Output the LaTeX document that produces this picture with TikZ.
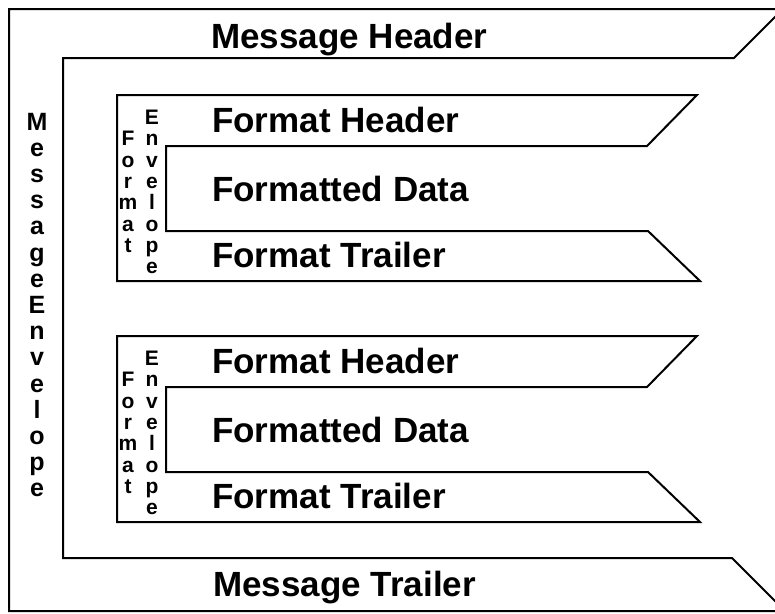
\documentclass[tikz,border=0pt]{standalone}
\usepackage{fontspec}
\setmainfont{Liberation Sans}
\usepackage{tikz}

\tikzset{
    envelope/.style={line width=2pt, line join=miter},
    bandtext/.style={anchor=base west, inner sep=0pt, font=\fontsize{35}{40}\selectfont\bfseries},
    bigstack/.style={align=center, inner sep=0pt, font=\fontsize{25}{26.2}\selectfont\bfseries},
    smallstack/.style={align=center, inner sep=0pt, font=\fontsize{21}{21.3}\selectfont\bfseries}
}

\begin{document}
\begin{tikzpicture}[x=1pt, y=-1pt]
    \useasboundingbox (0,0) rectangle (775,613);
    \clip (0,0) rectangle (775,613);
    % message envelope
    \draw[envelope] (9,611) -- (9,9) -- (783,9) -- (734,58) -- (63,58) -- (63,558)
        -- (732,558) -- (785,611) -- cycle;
    \node[bandtext] (msghead) at (211,48) {Message Header};
    \node[bandtext] (msgtrail) at (213,596) {Message Trailer};
    \node[bigstack] (msgenv) at (37,305) {M\\e\\s\\s\\a\\g\\e\\E\\n\\v\\e\\l\\o\\p\\e};
    % the two format envelopes
    \foreach \dy/\k in {0/1, 241/2} {
        \draw[envelope] (117,{95+\dy}) -- (697,{95+\dy}) -- (647,{146+\dy}) -- (166,{146+\dy})
            -- (166,{231+\dy}) -- (648,{231+\dy}) -- (700,{281+\dy}) -- (117,{281+\dy}) -- cycle;
        \node[bandtext] (fmthead\k) at (212,{132+\dy}) {Format Header};
        \node[bandtext] (fmtdata\k) at (212,{201+\dy}) {Formatted Data};
        \node[bandtext] (fmttrail\k) at (212,{267+\dy}) {Format Trailer};
        \node[smallstack] (fmtword\k) at (128,{192+\dy}) {F\\o\\r\\m\\a\\t};
        \node[smallstack] (envword\k) at (152,{192+\dy}) {E\\n\\v\\e\\l\\o\\p\\e};
    }
\end{tikzpicture}
\end{document}
